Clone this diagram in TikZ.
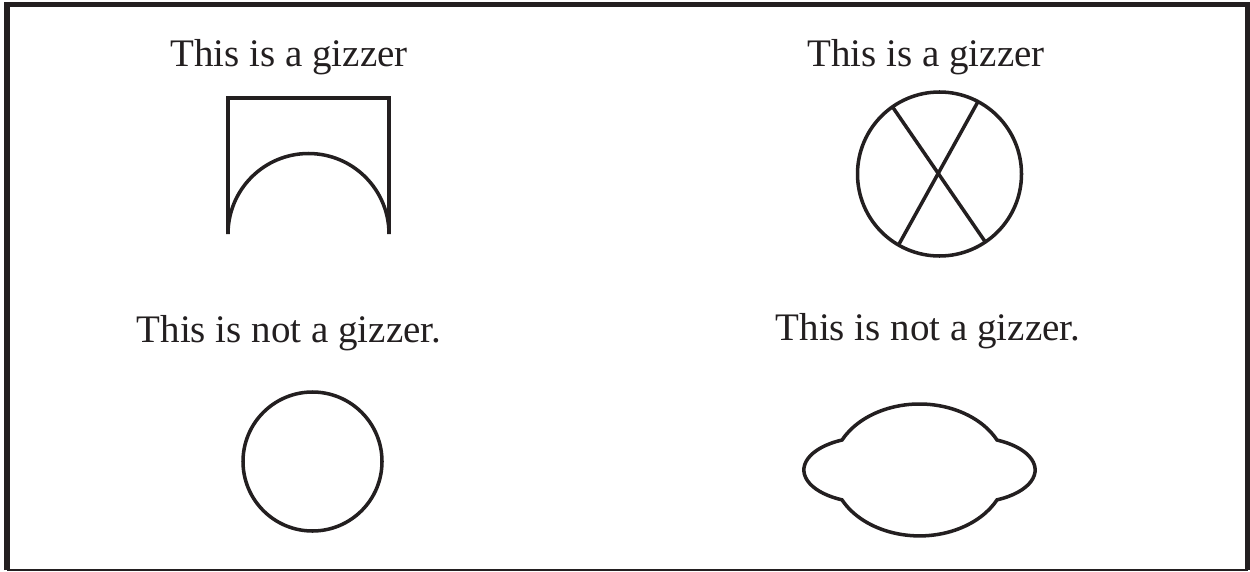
\documentclass[tikz,border=0pt]{standalone}
\usepackage{fontspec}
\setmainfont{Liberation Serif}
\definecolor{ink}{RGB}{35,31,32}
\begin{document}
\begin{tikzpicture}
    % Styles
    \tikzstyle{gtext} = [font=\fontsize{11.1}{13}\selectfont, text=ink, anchor=base, inner sep=0pt]
    \tikzstyle{outline} = [draw=ink, line width=1pt]
    \tikzstyle{ring} = [circle, outline, inner sep=0pt, outer sep=0pt]
    \tikzstyle{frameline} = [draw=ink, line width=1.5pt]

    \useasboundingbox (0,0) rectangle (12.5,5.71);

    % Frame
    \draw [frameline] (0.07,0.01) -- (0.07,5.667) -- (12.475,5.667) -- (12.475,0.01);
    \draw [draw=ink, line width=0.45pt] (0.07,0.01) -- (12.475,0.01);

    % Labels
    \node [gtext] (yes1) at (2.89,5.04) {This is a gizzer};
    \node [gtext] (yes2) at (9.26,5.04) {This is a gizzer};
    \node [gtext] (no1) at (2.89,2.29) {This is not a gizzer.};
    \node [gtext] (no2) at (9.28,2.31) {This is not a gizzer.};

    % Gizzers
    \draw [outline] (2.28,3.37) -- (2.28,4.73) -- (3.89,4.73) -- (3.89,3.37)
        arc [start angle=0, end angle=180, radius=0.805];
    \node [ring, minimum size=1.64cm] (cross) at (9.395,3.97) {};
    \draw [outline] (cross.125) -- (cross.-56);
    \draw [outline] (cross.62) -- (cross.240);

    % Not gizzers
    \node [ring, minimum size=1.39cm] (plain) at (3.125,1.095) {};
    \draw [outline] (9.195,1.01) ++(27:0.87 and 0.66)
        arc [start angle=27, end angle=153, x radius=0.87, y radius=0.66]
        arc [start angle=115, end angle=245, x radius=0.66, y radius=0.33]
        arc [start angle=207, end angle=333, x radius=0.87, y radius=0.66]
        arc [start angle=-65, end angle=65, x radius=0.66, y radius=0.33] -- cycle;
\end{tikzpicture}
\end{document}
